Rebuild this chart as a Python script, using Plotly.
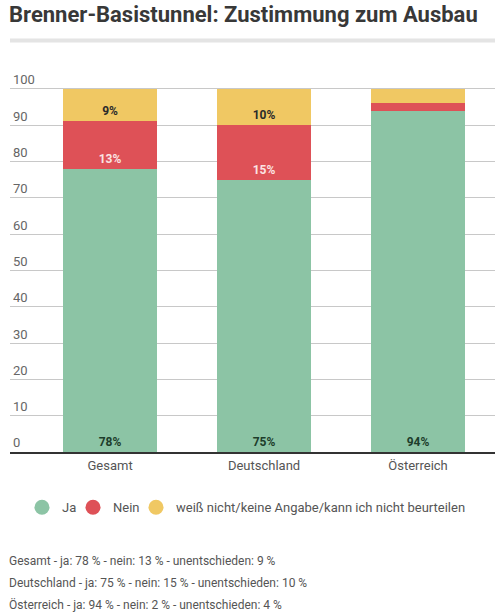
import plotly.graph_objects as go

# Umfragewerte in Prozent
regionen = ['Gesamt', 'Deutschland', 'Österreich']
ja = [78, 75, 94]
nein = [13, 15, 2]
unentschieden = [9, 10, 4]

serien = ['Ja', 'Nein', 'weiß nicht/keine Angabe/kann ich nicht beurteilen']
farben = ['#8cc4a5', '#de5157', '#f0c863']
textfarben = ['#1d3d2b', '#fbe3e3', '#2b2b2b']

titel = 'Brenner-Basistunnel: Zustimmung zum Ausbau'
fusszeilen = [
    'Gesamt - ja: 78 % - nein: 13 % - unentschieden: 9 %',
    'Deutschland - ja: 75 % - nein: 15 % - unentschieden: 10 %',
    'Österreich - ja: 94 % - nein: 2 % - unentschieden: 4 %',
]

# eigene Legende je Serie, damit die Abstaende stimmen
legenden = ['legend', 'legend2', 'legend3']
legenden_x = [0.0247, 0.1299, 0.2598]

fig = go.Figure()

for name, werte, farbe, tf, lg in zip(serien, [ja, nein, unentschieden], farben, textfarben, legenden):
    fig.add_trace(go.Bar(
        x=regionen, y=werte, name=name, marker_color=farbe, marker_line_width=0,
        width=0.61, showlegend=False,
        text=[f'{v}%' if v >= 5 else '' for v in werte],
        textposition='inside', insidetextanchor='start', textangle=0,
        textfont=dict(family='Roboto', size=12, color=tf, weight='bold'),
        hoverinfo='skip',
    ))
    # Legendeneintrag mit Kreis
    fig.add_trace(go.Scatter(
        x=[None], y=[None], mode='markers', name=name, legend=lg,
        marker=dict(symbol='circle', size=15, color=farbe),
    ))

leg_style = dict(orientation='h', xanchor='left', y=-0.1438, yanchor='middle',
                 font=dict(size=13, color='#555555'), bgcolor='rgba(0,0,0,0)')

fig.update_layout(
    barmode='stack',
    width=500, height=613,
    margin=dict(l=10, r=5, t=66.5, b=160.5),
    paper_bgcolor='white', plot_bgcolor='white',
    font=dict(family='Roboto', color='#555555', size=13),
    legend=dict(x=legenden_x[0], **leg_style),
    legend2=dict(x=legenden_x[1], **leg_style),
    legend3=dict(x=legenden_x[2], **leg_style),
    showlegend=True,
)

fig.update_xaxes(range=[-0.65, 2.5], showline=True, linecolor='#333333', linewidth=2,
                 ticks='', tickfont=dict(size=13, color='#555555'), showgrid=False)
fig.update_yaxes(range=[0, 106], tickvals=[0, 10, 20, 30, 40, 50, 60, 70, 80, 90, 100],
                 showgrid=True, gridcolor='#c8c8c8', gridwidth=1.2,
                 zeroline=False, ticklabelposition='inside top',
                 tickfont=dict(size=13, color='#666666'))

fig.add_annotation(text=f'<b>{titel}</b>', xref='paper', yref='paper', x=-0.006, y=1.137,
                   xanchor='left', yanchor='middle', showarrow=False,
                   font=dict(family='Roboto', size=22, color='#383838'))
fig.add_shape(type='line', xref='paper', yref='paper', x0=0, x1=1, y0=1.069, y1=1.069,
              line=dict(color='#e4e4e4', width=4))

for i, zeile in enumerate(fusszeilen):
    fig.add_annotation(text=zeile, xref='paper', yref='paper', x=-0.006, y=-0.2829 - 0.0561 * i,
                       xanchor='left', yanchor='middle', showarrow=False,
                       font=dict(family='Roboto', size=12, color='#555555'))

fig.write_html('out.html', config={'displayModeBar': False},
               post_script="document.body.style.margin='0';")
